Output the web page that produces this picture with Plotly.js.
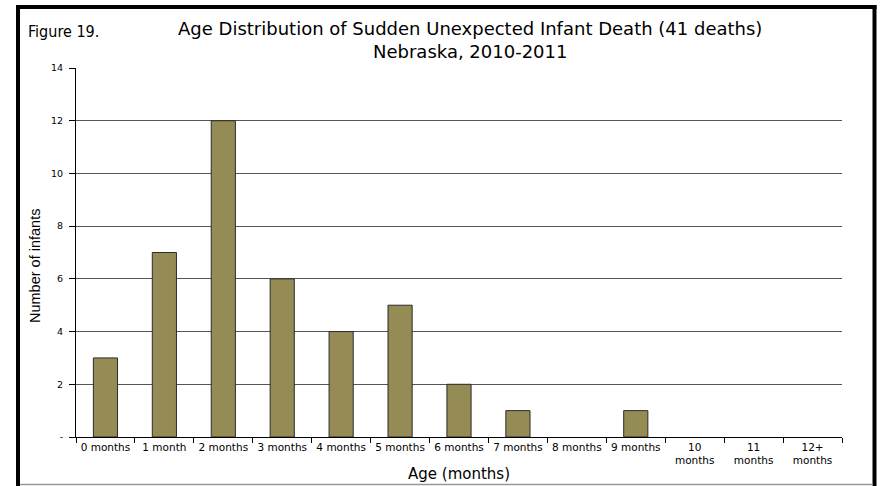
<!DOCTYPE html>
<html><head><meta charset="utf-8">
<script src="https://cdn.plot.ly/plotly-3.0.1.min.js"></script>
<style>html,body{margin:0;padding:0;background:#fff;}#chart{width:881px;height:486px;}</style>
</head><body><div id="chart"></div>
<script>
var categories = ["0 months","1 month","2 months","3 months","4 months","5 months","6 months","7 months","8 months","9 months","10<br>months","11<br>months","12+<br>months"];
var infants = [3,7,12,6,4,5,2,1,0,1,0,0,0];
var yTickVals = [0,2,4,6,8,10,12,14];
var yTickText = ["-","2","4","6","8","10","12","14"];
var titleLine1 = "Age Distribution of Sudden Unexpected Infant Death (41 deaths)";
var titleLine2 = "Nebraska, 2010-2011";

var W=881,H=486,L=76,R=39,T=68,B=49;
var pw=W-L-R, ph=H-T-B;
function px(x){return (x-L)/pw;}
function py(y){return (H-B-y)/ph;}
var SANS = 'DejaVu Sans, Verdana, sans-serif';

var trace = {
  type:'bar', x:categories, y:infants,
  marker:{color:'#958B55', line:{color:'#2b2b2b', width:infants.map(function(v){return v>0?1:0;})}},
  hoverinfo:'x+y'
};
var layout = {
  width:W, height:H,
  margin:{l:L,r:R,t:T,b:B,pad:0},
  paper_bgcolor:'#fff', plot_bgcolor:'#fff',
  bargap:0.59,
  showlegend:false,
  font:{family:SANS, color:'#000'},
  xaxis:{type:'category', tickson:'boundaries', ticks:'outside', ticklen:5, tickcolor:'#000',
    showline:true, linecolor:'#000', linewidth:1, showgrid:false,
    tickfont:{size:10.5, family:SANS}, tickangle:0,
    title:{text:'Age (months)', font:{size:15, family:SANS}, standoff:3}},
  yaxis:{range:[0,14], tickvals:yTickVals, ticktext:yTickText, ticks:'outside', ticklen:6, tickcolor:'#000',
    showline:true, linecolor:'#000', linewidth:1, showgrid:true, gridcolor:'#555', gridwidth:1,
    zeroline:false, tickfont:{size:9.5, family:SANS}, ticklabelstandoff:4},
  annotations:[
    {text:'Figure 19.', xref:'paper', yref:'paper', x:px(26), y:py(31), xanchor:'left', yanchor:'middle',
      showarrow:false, font:{size:16, family:'Liberation Sans Narrow, DejaVu Sans Condensed, sans-serif', color:'#000'}},
    {text:titleLine1, xref:'paper', yref:'paper', x:px(470), y:py(29), xanchor:'center', yanchor:'middle',
      showarrow:false, font:{size:18, family:SANS, color:'#000'}},
    {text:titleLine2, xref:'paper', yref:'paper', x:px(470), y:py(51), xanchor:'center', yanchor:'middle',
      showarrow:false, font:{size:18, family:SANS, color:'#000'}},
    {text:'Number of infants', xref:'paper', yref:'paper', x:px(35), y:py(266), xanchor:'center', yanchor:'middle',
      textangle:-90, showarrow:false, font:{size:14.5, family:'Liberation Sans, Arial, sans-serif', color:'#000'}}
  ],
  shapes:[
    {type:'line', xref:'paper', yref:'paper', x0:px(18), x1:px(18), y0:py(5), y1:py(486), line:{color:'#000', width:4}},
    {type:'line', xref:'paper', yref:'paper', x0:px(16), x1:px(876.5), y0:py(7), y1:py(7), line:{color:'#000', width:4}},
    {type:'line', xref:'paper', yref:'paper', x0:px(874.5), x1:px(874.5), y0:py(5), y1:py(486), line:{color:'#000', width:4}},
    {type:'line', xref:'paper', yref:'paper', x0:px(20), x1:px(873), y0:py(484.5), y1:py(484.5), line:{color:'#999', width:1.5}}
  ]
};
Plotly.newPlot('chart',[trace],layout,{staticPlot:true, displayModeBar:false});
</script></body></html>
